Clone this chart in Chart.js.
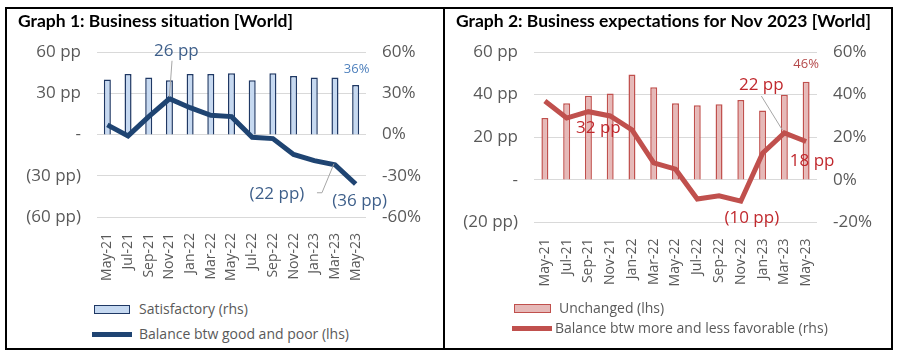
<!DOCTYPE html>
<html>
<head>
<meta charset="utf-8">
<script src="https://cdn.jsdelivr.net/npm/chart.js@4.4.0/dist/chart.umd.min.js"></script>
<style>
  body { margin: 0; background: #fff; font-family: "Open Sans", sans-serif; }
  #frame { position: absolute; left: 5px; top: 7px; width: 884px; height: 339px; border: 2px solid #000; }
  .panel { position: absolute; top: 0; height: 339px; }
  #panel1 { left: 0; width: 436px; border-right: 2px solid #000; }
  #panel2 { left: 438px; width: 446px; }
  canvas { position: absolute; left: 0; top: 0; }
  .legend { position: absolute; left: 0; top: 0; color: #595959; font-size: 14px; }
  .legend div { position: absolute; white-space: nowrap; }
  .swatch { position: absolute; box-sizing: border-box; }
</style>
</head>
<body>
<div id="frame">
  <div class="panel" id="panel1">
    <canvas id="businessSituationChart" width="436" height="290"></canvas>
    <div class="legend" id="legend1"></div>
  </div>
  <div class="panel" id="panel2">
    <canvas id="businessExpectationsChart" width="446" height="290"></canvas>
    <div class="legend" id="legend2"></div>
  </div>
</div>
<script>
// ## DATA ##

const months = ["May-21", "Jul-21", "Sep-21", "Nov-21", "Jan-22", "Mar-22", "May-22",
  "Jul-22", "Sep-22", "Nov-22", "Jan-23", "Mar-23", "May-23"];

// Graph 1: business situation
const satisfactory = [40, 44, 41.5, 39.5, 44, 44, 44.5, 39.5, 44.5, 42.5, 41.5, 41.5, 36];
const balanceGoodPoor = [7, -1, 13, 26, 19.5, 14, 13, -2, -3, -14.5, -19, -22, -36];
const situationTicks = [-60, -30, 0, 30, 60];
const situationLeftLabels = ["(60 pp)", "(30 pp)", "-", "30 pp", "60 pp"];
const situationRightLabels = ["-60%", "-30%", "0%", "30%", "60%"];

// Graph 2: business expectations
const unchanged = [29, 36, 39.5, 40.5, 49.5, 43.5, 36, 35, 35.5, 37.5, 32.5, 40, 46];
const balanceMoreLess = [37, 29, 32, 30, 23.5, 8, 5, -9, -7.5, -10, 12.5, 22, 18];
const expectationTicks = [-20, 0, 20, 40, 60];
const expectationLeftLabels = ["(20 pp)", "-", "20 pp", "40 pp", "60 pp"];
const expectationRightLabels = ["-20%", "0%", "20%", "40%", "60%"];

// ## HELPERS ##

function ppText(v) {
  return v < 0 ? "(" + Math.abs(v) + " pp)" : v + " pp";
}

const GRID = "#d9d9d9";
const TICK = "#595959";

// draws value labels with optional leader lines next to chosen points
const pointLabels = {
  id: "pointLabels",
  afterDatasetsDraw(chart, args, opts) {
    const ctx = chart.ctx;
    (opts.items || []).forEach((item) => {
      const el = chart.getDatasetMeta(item.dataset).data[item.index];
      const value = chart.data.datasets[item.dataset].data[item.index];
      ctx.save();
      if (item.leader) {
        ctx.strokeStyle = "#a6a6a6";
        ctx.lineWidth = 1;
        ctx.beginPath();
        item.leader.forEach((p, i) => {
          if (i === 0) ctx.moveTo(el.x + p[0], el.y + p[1]);
          else ctx.lineTo(el.x + p[0], el.y + p[1]);
        });
        ctx.stroke();
      }
      ctx.font = item.size + "px 'Open Sans'";
      ctx.fillStyle = item.color;
      ctx.textAlign = "center";
      ctx.textBaseline = "middle";
      ctx.fillText(item.format(value), el.x + item.dx, el.y + item.dy);
      ctx.restore();
    });
  },
};

function fixedTicks(values, labels) {
  return {
    afterBuildTicks: (scale) => {
      scale.ticks = values.map((v) => ({ value: v }));
    },
    callback: (value) => labels[values.indexOf(value)],
  };
}

function buildChart(canvasId, cfg) {
  const ctx = document.getElementById(canvasId).getContext("2d");
  const left = fixedTicks(cfg.ticks, cfg.leftLabels);
  const right = fixedTicks(cfg.ticks, cfg.rightLabels);
  const min = cfg.ticks[0];
  const max = cfg.ticks[cfg.ticks.length - 1];
  return new Chart(ctx, {
    type: "bar",
    data: { labels: months, datasets: cfg.datasets },
    plugins: [pointLabels],
    options: {
      responsive: false,
      animation: false,
      layout: { padding: { left: 11, top: 2, right: 0, bottom: 0 } },
      plugins: {
        legend: { display: false },
        tooltip: { enabled: false },
        title: {
          display: true,
          text: cfg.title,
          align: "start",
          color: "#000",
          font: { family: "Lato", size: 17.5, weight: "bold" },
          padding: { top: 0, bottom: 20 },
        },
        pointLabels: { items: cfg.labels },
      },
      scales: {
        x: {
          grid: { display: false },
          border: { display: false },
          ticks: {
            autoSkip: false,
            minRotation: 90,
            maxRotation: 90,
            padding: 8,
            color: TICK,
            font: { family: "Open Sans", size: 14 },
          },
          afterFit: (scale) => { scale.height = 290 - cfg.bottom; },
        },
        y: {
          position: "left",
          min: min,
          max: max,
          grid: { color: GRID, drawTicks: false },
          border: { display: false },
          ticks: {
            padding: 16,
            color: TICK,
            font: { family: "Open Sans", size: 17 },
            callback: left.callback,
          },
          afterBuildTicks: left.afterBuildTicks,
          afterFit: (scale) => { scale.width = cfg.left - 11; },
        },
        y1: {
          position: "right",
          min: min,
          max: max,
          grid: { display: false, drawTicks: false },
          border: { display: false },
          ticks: {
            padding: 16,
            color: TICK,
            font: { family: "Open Sans", size: 17 },
            callback: right.callback,
          },
          afterBuildTicks: right.afterBuildTicks,
          afterFit: (scale) => { scale.width = cfg.width - cfg.right; },
        },
      },
    },
  });
}

function buildLegend(chart, elId, rows) {
  const box = document.getElementById(elId);
  chart.data.datasets.forEach((ds, i) => {
    const r = rows[i];
    const sw = document.createElement("span");
    sw.className = "swatch";
    if (ds.type === "line") {
      sw.style.cssText = `left:${r.x}px;top:${r.y - 2.5}px;width:${r.w}px;height:5px;background:${ds.borderColor}`;
    } else {
      sw.style.cssText = `left:${r.x}px;top:${r.y - 4.5}px;width:${r.w}px;height:9px;background:${ds.backgroundColor};border:1px solid ${ds.borderColor}`;
    }
    box.appendChild(sw);
    const txt = document.createElement("div");
    txt.textContent = ds.label;
    txt.style.left = r.tx + "px";
    txt.style.top = r.y - 10 + "px";
    txt.style.lineHeight = "20px";
    box.appendChild(txt);
  });
}

// ## GRAPH 1 ##

const situationChart = buildChart("businessSituationChart", {
  title: "Graph 1: Business situation [World]",
  ticks: situationTicks,
  leftLabels: situationLeftLabels,
  rightLabels: situationRightLabels,
  left: 90,
  right: 359,
  width: 436,
  bottom: 208,
  datasets: [
    {
      type: "line",
      label: "Balance btw good and poor (lhs)",
      data: balanceGoodPoor,
      yAxisID: "y",
      borderColor: "#1f4472",
      borderWidth: 5,
      pointRadius: 0,
      tension: 0,
      order: 0,
    },
    {
      type: "bar",
      label: "Satisfactory (rhs)",
      data: satisfactory,
      yAxisID: "y1",
      backgroundColor: "#c6d9f1",
      borderColor: "#1f3864",
      borderWidth: 1.5,
      barPercentage: 0.34,
      categoryPercentage: 1,
      order: 1,
    },
  ],
  labels: [
    { dataset: 0, index: 3, format: ppText, size: 17, color: "#3e5f8a", dx: 7, dy: -48, leader: [[2.6, -38], [0, -2]] },
    { dataset: 0, index: 11, format: ppText, size: 17, color: "#3e5f8a", dx: -58, dy: 29, leader: [[-18, 28], [-13, 28], [-1, -1]] },
    { dataset: 0, index: 12, format: ppText, size: 17, color: "#3e5f8a", dx: 4, dy: 17 },
    { dataset: 1, index: 12, format: (v) => v + "%", size: 13, color: "#4f81bd", dx: 1, dy: -16 },
  ],
});

// legend rows are in dataset order: line first, then bars
buildLegend(situationChart, "legend1", [
  { x: 85, w: 40, y: 325, tx: 132 },
  { x: 87, w: 36, y: 300, tx: 132 },
]);

// ## GRAPH 2 ##

const expectationChart = buildChart("businessExpectationsChart", {
  title: "Graph 2: Business expectations for Nov 2023 [World]",
  ticks: expectationTicks,
  leftLabels: expectationLeftLabels,
  rightLabels: expectationRightLabels,
  left: 89,
  right: 372,
  width: 446,
  bottom: 213.5,
  datasets: [
    {
      type: "line",
      label: "Balance btw more and less favorable (rhs)",
      data: balanceMoreLess,
      yAxisID: "y1",
      borderColor: "#c0504d",
      borderWidth: 5,
      pointRadius: 0,
      tension: 0,
      order: 0,
    },
    {
      type: "bar",
      label: "Unchanged (lhs)",
      data: unchanged,
      yAxisID: "y",
      backgroundColor: "#e6b9b8",
      borderColor: "#c0504d",
      borderWidth: 1.5,
      barPercentage: 0.32,
      categoryPercentage: 1,
      order: 1,
    },
  ],
  labels: [
    { dataset: 0, index: 2, format: ppText, size: 17, color: "#c0282d", dx: 10, dy: 16 },
    { dataset: 0, index: 9, format: ppText, size: 17, color: "#c0282d", dx: 11, dy: 17 },
    { dataset: 0, index: 11, format: ppText, size: 17, color: "#c0282d", dx: -23, dy: -48, leader: [[-23, -37], [-2, -3]] },
    { dataset: 0, index: 12, format: ppText, size: 17, color: "#c0282d", dx: 6, dy: 20 },
    { dataset: 1, index: 12, format: (v) => v + "%", size: 13, color: "#b5494a", dx: 0, dy: -18 },
  ],
});

buildLegend(expectationChart, "legend2", [
  { x: 67, w: 40, y: 319, tx: 110 },
  { x: 69, w: 37, y: 299, tx: 114 },
]);
</script>
</body>
</html>
